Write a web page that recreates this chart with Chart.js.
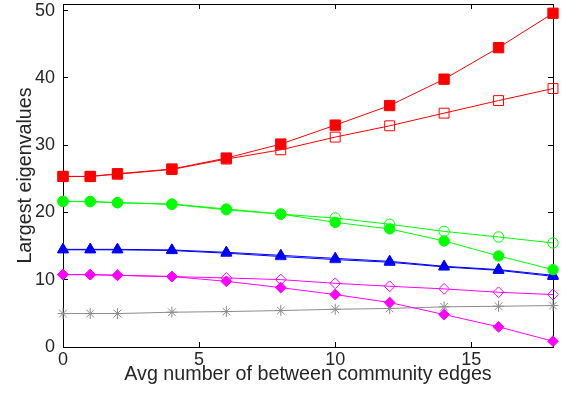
<!DOCTYPE html>
<html>
<head>
<meta charset="utf-8">
<script src="https://cdn.jsdelivr.net/npm/chart.js@4/dist/chart.umd.min.js"></script>
<style>
  html, body { margin: 0; padding: 0; background: #ffffff; }
  #wrap { width: 562px; height: 394px; }
</style>
</head>
<body>
<div id="wrap"><canvas id="c" width="562" height="394"></canvas></div>
<script>
// Average number of between-community edges (x positions of the samples)
const xValues = [0, 1, 2, 4, 6, 8, 10, 12, 14, 16, 18];

// Largest eigenvalues, one array per curve
const redFilled     = [25.36, 25.36, 25.76, 26.46, 28.09, 30.17, 32.99, 35.90, 39.82, 44.51, 49.62];
const redOpen       = [25.36, 25.36, 25.70, 26.40, 27.94, 29.32, 31.21, 32.89, 34.77, 36.64, 38.43];
const greenFilled   = [21.65, 21.65, 21.46, 21.26, 20.52, 19.78, 18.53, 17.56, 15.77, 13.54, 11.51];
const greenOpen     = [21.65, 21.60, 21.46, 21.20, 20.40, 19.75, 19.18, 18.25, 17.19, 16.36, 15.47];
const blueFilled    = [14.52, 14.52, 14.52, 14.43, 14.08, 13.63, 13.18, 12.74, 12.00, 11.51, 10.66];
const blueOpen      = [14.45, 14.45, 14.45, 14.35, 13.95, 13.45, 13.00, 12.60, 11.90, 11.40, 10.50];
const magentaFilled = [10.76, 10.76, 10.66, 10.47, 9.77, 8.83, 7.80, 6.61, 4.83, 3.00, 0.86];
const magentaOpen   = [10.76, 10.76, 10.66, 10.47, 10.27, 10.02, 9.47, 9.03, 8.64, 8.14, 7.80];
const grayStar      = [4.97, 4.97, 4.97, 5.17, 5.27, 5.42, 5.61, 5.73, 5.97, 6.06, 6.16];

// Axis ranges and tick labels
const xMin = 0, xMax = 18;
const yMin = 0, yMax = 51;
const xTicks = [0, 5, 10, 15];
const yTicks = [0, 10, 20, 30, 40, 50];

const xTitle = 'Avg number of between community edges';
const yTitle = 'Largest eigenvalues';

const TEXT = '#262626';
const FONT = '"Liberation Sans", Arial, Helvetica, sans-serif';
const TICK_IN = -5;   // negative length: tick marks point into the plot

function pts(arr) {
  return xValues.map((x, i) => ({ x: x, y: arr[i] }));
}

function series(label, arr, color, style, radius, filled) {
  return {
    label: label,
    data: pts(arr),
    xAxisID: 'xBottom',
    yAxisID: 'yLeft',
    borderColor: color,
    backgroundColor: color,
    borderWidth: 1,
    pointStyle: style,
    pointRadius: radius,
    pointHoverRadius: radius,
    pointBorderColor: color,
    pointBackgroundColor: filled ? color : 'rgba(0,0,0,0)',
    pointBorderWidth: 1,
    tension: 0,
    fill: false,
    clip: false
  };
}

// Label-free axes hugging the plot: they draw the box and the inward ticks
function frameAxis(axis, position, tickValues, min, max) {
  const horizontal = axis === 'x';
  return {
    type: 'linear',
    axis: axis,
    position: position,
    weight: 0,
    min: min,
    max: max,
    grid: {
      display: true,
      drawOnChartArea: false,
      drawTicks: true,
      tickLength: TICK_IN,
      color: '#000000',
      lineWidth: 1
    },
    border: { display: true, color: '#000000', width: 1 },
    afterBuildTicks: s => { s.ticks = tickValues.map(v => ({ value: v })); },
    afterFit: s => {
      if (horizontal) { s.height = 0; s.paddingLeft = 0; s.paddingRight = 0; }
      else { s.width = 0; s.paddingTop = 0; s.paddingBottom = 0; }
    },
    ticks: { display: false },
    title: { display: false }
  };
}

new Chart(document.getElementById('c'), {
  type: 'line',
  data: {
    datasets: [
      series('red filled', redFilled, '#ff0000', 'rect', 7.3, true),
      series('red open', redOpen, '#ff0000', 'rect', 7.0, false),
      series('green filled', greenFilled, '#00ff00', 'circle', 5.2, true),
      series('green open', greenOpen, '#00ff00', 'circle', 5.2, false),
      series('blue filled', blueFilled, '#0000ff', 'triangle', 6.2, true),
      series('blue open', blueOpen, '#0000ff', 'triangle', 6.2, false),
      series('magenta filled', magentaFilled, '#ff00ff', 'rectRot', 5.4, true),
      series('magenta open', magentaOpen, '#ff00ff', 'rectRot', 5.4, false),
      series('gray', grayStar, '#8c8c8c', 'star', 5.5, false)
    ]
  },
  options: {
    responsive: false,
    animation: false,
    layout: { autoPadding: false, padding: { top: 4, right: 9, left: 0, bottom: 0 } },
    plugins: {
      legend: { display: false },
      tooltip: { enabled: false }
    },
    scales: {
      xBottom: {
        type: 'linear',
        axis: 'x',
        position: 'bottom',
        weight: 1,
        min: xMin,
        max: xMax,
        grid: { display: false, drawTicks: false },
        border: { display: false },
        afterBuildTicks: s => { s.ticks = xTicks.map(v => ({ value: v })); },
        afterFit: s => { s.height = 47; s.paddingLeft = 0; s.paddingRight = 0; },
        ticks: {
          color: TEXT,
          font: { family: FONT, size: 18 },
          padding: 2,
          maxRotation: 0,
          autoSkip: false
        },
        title: {
          display: true,
          text: xTitle,
          color: TEXT,
          font: { family: FONT, size: 19.7 },
          padding: { top: 0, bottom: 8 }
        }
      },
      yLeft: {
        type: 'linear',
        axis: 'y',
        position: 'left',
        weight: 1,
        min: yMin,
        max: yMax,
        grid: { display: false, drawTicks: false },
        border: { display: false },
        afterBuildTicks: s => { s.ticks = yTicks.map(v => ({ value: v })); },
        afterFit: s => { s.width = 63; s.paddingTop = 0; s.paddingBottom = 0; },
        ticks: {
          color: TEXT,
          font: { family: FONT, size: 18 },
          padding: 8,
          autoSkip: false
        },
        title: {
          display: true,
          text: yTitle,
          color: TEXT,
          font: { family: FONT, size: 19.7 },
          padding: { top: 14, bottom: 0 }
        }
      },
      xFrameBottom: frameAxis('x', 'bottom', xTicks, xMin, xMax),
      xFrameTop: frameAxis('x', 'top', xTicks, xMin, xMax),
      yFrameLeft: frameAxis('y', 'left', yTicks, yMin, yMax),
      yFrameRight: frameAxis('y', 'right', yTicks, yMin, yMax)
    }
  }
});
</script>
</body>
</html>
